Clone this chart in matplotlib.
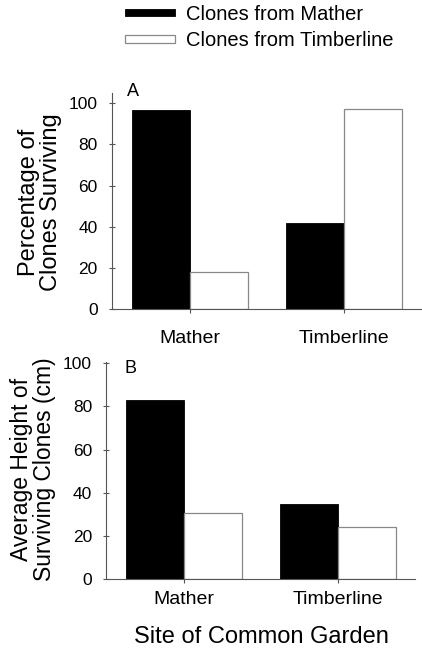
import matplotlib
matplotlib.use("Agg")
import matplotlib.pyplot as plt
import numpy as np

plt.rcParams['font.family'] = ['Liberation Sans', 'DejaVu Sans']

sites = ["Mather", "Timberline"]
series = ["Clones from Mather", "Clones from Timberline"]
survival_mather = [96.7, 42.0]
survival_timberline = [18.0, 97.0]
height_mather = [82.8, 34.9]
height_timberline = [30.7, 24.3]
yticks = [0, 20, 40, 60, 80, 100]

W, H = 422, 649
fig = plt.figure(figsize=(W / 100, H / 100), dpi=100)

def px_box(left, right, bottom, top):
    return [left / W, 1 - bottom / H, (right - left) / W, (bottom - top) / H]

axA = fig.add_axes(px_box(111.7, 421, 309, 93))
axB = fig.add_axes(px_box(106, 415, 579, 361.5))

x = np.arange(len(sites))
w = 0.377
spine_col = '#555555'

def draw(ax, black_vals, white_vals, ylim, xlim):
    b1 = ax.bar(x - w, black_vals, width=w, align='edge', color='black',
                edgecolor='black', linewidth=0.6, label=series[0])
    b2 = ax.bar(x, white_vals, width=w, align='edge', color='white',
                edgecolor='#888888', linewidth=0.9, label=series[1])
    ax.set_xlim(*xlim)
    ax.set_ylim(*ylim)
    ax.set_yticks(yticks)
    ax.set_xticks(x)
    ax.set_xticklabels(sites, fontsize=14)
    for s in ['top', 'right']:
        ax.spines[s].set_visible(False)
    for s in ['left', 'bottom']:
        ax.spines[s].set_color(spine_col)
        ax.spines[s].set_linewidth(0.8)
    ax.tick_params(axis='y', direction='inout', length=4, width=0.8,
                   color=spine_col, labelsize=12.5, pad=8)
    ax.tick_params(axis='x', direction='out', length=3, width=0.8,
                   color=spine_col)
    return b1, b2

b1, b2 = draw(axA, survival_mather, survival_timberline, (0, 105), (-0.508, 1.5))
axA.tick_params(axis='x', pad=12)
draw(axB, height_mather, height_timberline, (0, 100.8), (-0.5055, 1.497))
axB.tick_params(axis='x', pad=6)

axA.set_ylabel("Percentage of\nClones Surviving", fontsize=17, linespacing=1.0)
axA.yaxis.set_label_coords(62 / W, 1 - 202 / H, transform=fig.transFigure)
axB.set_ylabel("Average Height of\nSurviving Clones (cm)", fontsize=16.5, linespacing=1.0)
axB.yaxis.set_label_coords(56 / W, 1 - 469 / H, transform=fig.transFigure)
axB.set_xlabel("Site of Common Garden", fontsize=17)
axB.xaxis.set_label_coords(261.5 / W, 1 - 626 / H, transform=fig.transFigure)

fig.text(127 / W, 1 - 92 / H, "A", fontsize=13, ha='left', va='center')
fig.text(125 / W, 1 - 369 / H, "B", fontsize=13, ha='left', va='center')

fig.legend(handles=[b1, b2], labels=series, loc='upper left',
           bbox_to_anchor=(125 / W, 1 - 5 / H), frameon=False, fontsize=14.5,
           handlelength=2.5, handleheight=0.2, handletextpad=0.55,
           labelspacing=0.35, borderpad=0, borderaxespad=0)

fig.savefig("out.png", dpi=100)
